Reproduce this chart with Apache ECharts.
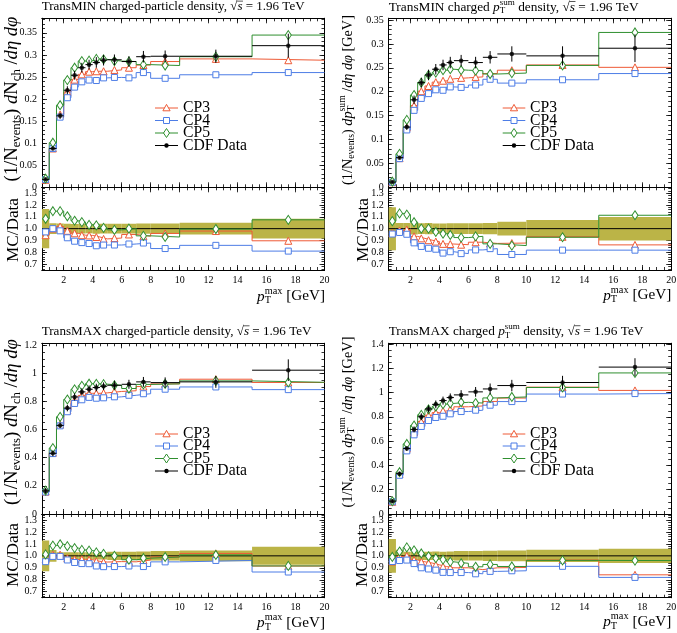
<!DOCTYPE html>
<html><head><meta charset="utf-8">
<script src="https://cdn.jsdelivr.net/npm/echarts@6/dist/echarts.min.js"></script>
<style>html,body{margin:0;padding:0;background:#fff}#c{width:677px;height:633px}</style>
</head><body><div id="c"></div>
<script>
// ---------------- data ----------------
const edges = [0.5,1,1.5,2,2.5,3,3.5,4,4.5,5,6,7,8,10,15,20];
const xTickLabels = [2,4,6,8,10,12,14,16,18,20];
const ratioTicks = [0.7,0.8,0.9,1.0,1.1,1.2,1.3];
const seriesNames = ['CP3','CP4','CP5','CDF Data'];

// TransMIN charged-particle density
const minNchYTicks = [0,0.05,0.1,0.15,0.2,0.25,0.3,0.35];
const minNchData = [0.018,0.088,0.162,0.220,0.254,0.271,0.278,0.283,0.288,0.289,0.285,0.296,0.297,0.297,0.321];
const minNchErr  = [0.003,0.004,0.007,0.009,0.010,0.011,0.011,0.012,0.012,0.012,0.012,0.013,0.013,0.015,0.027];
const minNchCP3  = [0.017,0.088,0.165,0.216,0.244,0.256,0.262,0.263,0.263,0.266,0.271,0.277,0.285,0.291,0.288];
const minNchCP4  = [0.0175,0.088,0.159,0.203,0.227,0.239,0.243,0.242,0.248,0.249,0.248,0.260,0.247,0.255,0.260];
const minNchCP5  = [0.0195,0.101,0.186,0.243,0.271,0.286,0.287,0.291,0.290,0.286,0.285,0.278,0.276,0.296,0.345];

// TransMIN charged pTsum density
const minPtYTicks = [0,0.05,0.1,0.15,0.2,0.25,0.3,0.35];
const minPtData = [0.011,0.062,0.126,0.183,0.219,0.235,0.247,0.256,0.261,0.265,0.261,0.272,0.279,0.275,0.291];
const minPtErr  = [0.002,0.003,0.006,0.009,0.010,0.011,0.011,0.011,0.012,0.012,0.012,0.013,0.016,0.020,0.029];
const minPtCP3  = [0.0106,0.061,0.125,0.171,0.201,0.212,0.220,0.223,0.227,0.229,0.231,0.238,0.245,0.256,0.251];
const minPtCP4  = [0.0105,0.060,0.120,0.161,0.186,0.196,0.204,0.203,0.210,0.209,0.214,0.226,0.218,0.225,0.238];
const minPtCP5  = [0.0117,0.070,0.141,0.193,0.219,0.235,0.240,0.245,0.247,0.245,0.244,0.237,0.239,0.255,0.324];

// TransMAX charged-particle density
const maxNchYTicks = [0,0.2,0.4,0.6,0.8,1,1.2];
const maxNchData = [0.164,0.431,0.629,0.752,0.831,0.867,0.886,0.898,0.907,0.914,0.921,0.938,0.933,0.938,1.021];
const maxNchErr  = [0.021,0.021,0.019,0.023,0.025,0.026,0.027,0.027,0.027,0.032,0.032,0.035,0.037,0.042,0.077];
const maxNchCP3  = [0.159,0.435,0.635,0.737,0.806,0.842,0.857,0.857,0.860,0.870,0.875,0.905,0.924,0.957,0.934];
const maxNchCP4  = [0.156,0.429,0.626,0.726,0.785,0.811,0.828,0.822,0.825,0.832,0.843,0.854,0.886,0.902,0.883];
const maxNchCP5  = [0.166,0.468,0.690,0.813,0.885,0.910,0.925,0.924,0.922,0.914,0.891,0.920,0.924,0.945,0.935];

// TransMAX charged pTsum density
const maxPtYTicks = [0,0.2,0.4,0.6,0.8,1,1.2,1.4];
const maxPtData = [0.106,0.332,0.539,0.697,0.801,0.865,0.903,0.934,0.959,0.981,1.006,1.030,1.058,1.083,1.210];
const maxPtErr  = [0.015,0.017,0.019,0.024,0.028,0.030,0.032,0.033,0.034,0.039,0.040,0.045,0.047,0.055,0.073];
const maxPtCP3  = [0.101,0.330,0.539,0.673,0.761,0.813,0.835,0.850,0.863,0.883,0.890,0.927,0.955,1.045,1.018];
const maxPtCP4  = [0.101,0.319,0.520,0.652,0.721,0.770,0.795,0.805,0.825,0.844,0.855,0.896,0.926,0.988,0.992];
const maxPtCP5  = [0.105,0.344,0.577,0.729,0.817,0.862,0.885,0.905,0.911,0.920,0.914,0.956,0.964,1.042,1.162];

// ---------------- style / layout ----------------
const FF = '"Liberation Serif", "DejaVu Serif", serif';
const COL = {cp3:'#ee5a36', cp4:'#4d7de6', cp5:'#2f8f2f', data:'#000', band:'#bbb447'};
const PW = 282.5;

const mctx = document.createElement('canvas').getContext('2d');
function tw(t, size, italic){ mctx.font = (italic?'italic ':'') + size + 'px ' + FF; return mctx.measureText(t).width; }
function layout(pieces, size){
  let x = 0, pend = 0; const items = [];
  for (const p of pieces){
    const s = (p.sub||p.sup) ? size*0.68 : size;
    const dy = p.sub ? size*0.26 : p.sup ? -size*0.36 : 0;
    const w = tw(p.t, s, p.i);
    items.push({t:p.t, x, y:dy, s, i:p.i, w, over:p.over});
    if (p.stack){ pend = w; } else { x += Math.max(w, pend); pend = 0; }
  }
  return {items, width:x};
}
function makeLabel(pieces, target, ax, ay, anchor, rot){
  const L0 = layout(pieces, 20);
  const size = 20*target/L0.width;
  const L = layout(pieces, size);
  const off = anchor==='left' ? 0 : anchor==='right' ? -L.width : -L.width/2;
  const children = [];
  L.items.forEach(it=>{
    children.push({type:'text', x:it.x+off, y:it.y, style:{text:it.t, fontSize:it.s, fontFamily:FF, fontStyle:it.i?'italic':'normal', fill:'#000', align:'left', verticalAlign:'middle'}});
    if (it.over) children.push({type:'line', shape:{x1:it.x+off-0.3, y1:-size*0.45, x2:it.x+off+it.w+0.5, y2:-size*0.45}, style:{stroke:'#000', lineWidth:Math.max(0.6,size*0.05)}});
  });
  return {type:'group', x:ax, y:ay, rotation:rot||0, children, silent:true};
}
function range(a,b,st){ const o=[]; for(let k=0;a+k*st<=b+1e-9;k++) o.push(+(a+k*st).toFixed(4)); return o; }

const centers = edges.slice(0,-1).map((e,i)=>(e+edges[i+1])/2);
const stepData = v => v.map((y,i)=>[edges[i],y]).concat([[edges[edges.length-1], v[v.length-1]]]);
const ratio = (a,b) => a.map((v,i)=>v/b[i]);

const sqrtS = [{t:'√'},{t:'s',i:1,over:1},{t:' = 1.96 TeV'}];
const ptSum = [{t:'p',i:1},{t:'T',sub:1,stack:1},{t:'sum',sup:1}];
const nchY = [{t:'(1/N'},{t:'events',sub:1},{t:') '},{t:'d',i:1},{t:'N'},{t:'ch',sub:1},{t:' /'},{t:'dη dφ',i:1}];
const ptY = [{t:'(1/N'},{t:'events',sub:1},{t:') '},{t:'d',i:1}].concat(ptSum,[{t:' /'},{t:'dη dφ',i:1},{t:' [GeV]'}]);
const xLab = [{t:'p',i:1},{t:'T',sub:1,stack:1},{t:'max',sup:1},{t:' [GeV]'}];

const panels = [
 {d:minNchData,e:minNchErr,c3:minNchCP3,c4:minNchCP4,c5:minNchCP5,yt:minNchYTicks,ymin:0.01,ymax:0.383,
  left:42,top:18.3,h:169,rTop:187.3,rH:82.7,
  title:[{t:'TransMIN charged-particle density, '}].concat(sqrtS), tPos:[41.7,7,263],
  yl:nchY, ylPos:[12,99,165], mcPos:[13,230,64], xlPos:[325,296.5,68],
  leg:{x0:155,x1:178,tx:183,rows:[108,120.5,133,145.5]}},
 {d:minPtData,e:minPtErr,c3:minPtCP3,c4:minPtCP4,c5:minPtCP5,yt:minPtYTicks,ymin:0.01,ymax:0.3536,
  left:388.7,top:18.3,h:169,rTop:187.3,rH:82.7,
  title:[{t:'TransMIN charged '}].concat(ptSum,[{t:' density, '}],sqrtS), tPos:[388.7,7.5,250],
  yl:ptY, ylPos:[348,100,170], mcPos:[363,230,64], xlPos:[671.2,295.5,68],
  leg:{x0:502.7,x1:525.3,tx:530,rows:[108,120.5,133,145.5]}},
 {d:maxNchData,e:maxNchErr,c3:maxNchCP3,c4:maxNchCP4,c5:maxNchCP5,yt:maxNchYTicks,ymin:0.05,ymax:1.212,
  left:42,top:343.3,h:170.7,rTop:514,rH:83.7,
  title:[{t:'TransMAX charged-particle density, '}].concat(sqrtS), tPos:[41.7,331.7,270],
  yl:nchY, ylPos:[12,422,166], mcPos:[13,555,64], xlPos:[325,623,68],
  leg:{x0:155,x1:178,tx:183,rows:[434,446,458.5,471]}},
 {d:maxPtData,e:maxPtErr,c3:maxPtCP3,c4:maxPtCP4,c5:maxPtCP5,yt:maxPtYTicks,ymin:0.05,ymax:1.406,
  left:388.7,top:343.3,h:170.7,rTop:514,rH:83.7,
  title:[{t:'TransMAX charged '}].concat(ptSum,[{t:' density, '}],sqrtS), tPos:[388.7,331.7,255],
  yl:ptY, ylPos:[348,422,171], mcPos:[362,555,64], xlPos:[671.2,622,68],
  leg:{x0:502.7,x1:525.3,tx:530,rows:[434,446,458.5,471]}}
];

const grids=[], xAxes=[], yAxes=[], series=[], graphics=[];
const xMajor = xTickLabels, xMinor = range(0.5,20,0.5);
function addGrid(l,t,w,h){ grids.push({left:l,top:t,width:w,height:h,containLabel:false,outerBoundsMode:'none'}); return grids.length-1; }
function mkAxis(arr, gi, pos, min, max, ticks, len, labVals, fmt, margin){
  arr.push({type:'value', gridIndex:gi, position:pos, min, max, offset:0,
    axisLine:{show:true,onZero:false,lineStyle:{color:'#000',width:1}},
    axisTick:{show:true,inside:true,length:len,customValues:ticks,lineStyle:{color:'#000',width:0.8}},
    axisLabel:labVals?{show:true,customValues:labVals,formatter:fmt,fontSize:10,fontFamily:FF,color:'#000',margin:margin}:{show:false},
    splitLine:{show:false}, minorTick:{show:false}, minorSplitLine:{show:false}, axisPointer:{show:false}});
  return arr.length-1;
}
const fmtMain = v => String(+(+v).toFixed(3));
const fmtRatio = v => (+v).toFixed(1);
const fmtX = v => String(+(+v).toFixed(1));

panels.forEach(p=>{
  const gM = addGrid(p.left,p.top,PW,p.h), gR = addGrid(p.left,p.rTop,PW,p.rH);
  // main axes
  const xM = mkAxis(xAxes,gM,'bottom',0.5,20,xMajor,5,null);
  mkAxis(xAxes,gM,'bottom',0.5,20,xMinor,3,null);
  mkAxis(xAxes,gM,'top',0.5,20,xMajor,5,null);
  mkAxis(xAxes,gM,'top',0.5,20,xMinor,3,null);
  const ymn = range(0,p.ymax,p.ymin);
  const yM = mkAxis(yAxes,gM,'left',0,p.ymax,p.yt,5,p.yt,fmtMain,5);
  mkAxis(yAxes,gM,'left',0,p.ymax,ymn,3,null);
  mkAxis(yAxes,gM,'right',0,p.ymax,p.yt,5,null);
  mkAxis(yAxes,gM,'right',0,p.ymax,ymn,3,null);
  // ratio axes
  const xR = mkAxis(xAxes,gR,'bottom',0.5,20,xMajor,5,xTickLabels,fmtX,5);
  mkAxis(xAxes,gR,'bottom',0.5,20,xMinor,3,null);
  mkAxis(xAxes,gR,'top',0.5,20,xMajor,5,null);
  mkAxis(xAxes,gR,'top',0.5,20,xMinor,3,null);
  const rmn = range(0.66,1.34,0.02);
  const yR = mkAxis(yAxes,gR,'left',0.65,1.35,ratioTicks,5,ratioTicks,fmtRatio,5);
  mkAxis(yAxes,gR,'left',0.65,1.35,rmn,3,null);
  mkAxis(yAxes,gR,'right',0.65,1.35,ratioTicks,5,null);
  mkAxis(yAxes,gR,'right',0.65,1.35,rmn,3,null);

  const mcs = [[p.c3,COL.cp3,'triangle',7],[p.c4,COL.cp4,'rect',6],[p.c5,COL.cp5,'diamond',[6,9]]];
  const base = {animation:false, silent:true};
  // ratio band
  series.push(Object.assign({type:'custom', xAxisIndex:xR, yAxisIndex:yR, z:1, clip:true,
    data: p.d.map((v,i)=>[edges[i],edges[i+1],p.e[i]/v]),
    renderItem:(prm,api)=>{ const a=api.coord([api.value(0),1+api.value(2)]), b=api.coord([api.value(1),1-api.value(2)]);
      return {type:'rect', shape:{x:a[0],y:a[1],width:b[0]-a[0],height:b[1]-a[1]}, style:{fill:COL.band}}; }}, base));
  series.push(Object.assign({type:'line', xAxisIndex:xR, yAxisIndex:yR, step:'end', symbol:'none', z:2,
    data:stepData(ratio(p.d,p.d)), lineStyle:{color:'#000',width:1}}, base));
  mcs.forEach(([v,c,sym,sz])=>{
    series.push(Object.assign({type:'line', xAxisIndex:xM, yAxisIndex:yM, step:'end', symbol:'none', z:3,
      data:stepData(v), lineStyle:{color:c,width:1}}, base));
    series.push(Object.assign({type:'line', xAxisIndex:xR, yAxisIndex:yR, step:'end', symbol:'none', z:3,
      data:stepData(ratio(v,p.d)), lineStyle:{color:c,width:1}}, base));
  });
  mcs.forEach(([v,c,sym,sz])=>{
    series.push(Object.assign({type:'scatter', xAxisIndex:xM, yAxisIndex:yM, z:4, symbol:sym, symbolSize:sz,
      data:centers.map((x,i)=>[x,v[i]]), itemStyle:{color:'#fff',borderColor:c,borderWidth:1,opacity:1}}, base));
    const r = ratio(v,p.d);
    series.push(Object.assign({type:'scatter', xAxisIndex:xR, yAxisIndex:yR, z:4, symbol:sym, symbolSize:sz,
      data:centers.map((x,i)=>[x,r[i]]), itemStyle:{color:'#fff',borderColor:c,borderWidth:1,opacity:1}}, base));
  });
  // data error bars + points
  series.push(Object.assign({type:'custom', xAxisIndex:xM, yAxisIndex:yM, z:5,
    data: p.d.map((v,i)=>[edges[i],edges[i+1],centers[i],v,p.e[i]]),
    renderItem:(prm,api)=>{ const lo=api.value(0),hi=api.value(1),c=api.value(2),v=api.value(3),e=api.value(4);
      const L=api.coord([lo,v]),R=api.coord([hi,v]),T=api.coord([c,v+e]),B=api.coord([c,v-e]);
      return {type:'group',children:[
        {type:'line',shape:{x1:L[0],y1:L[1],x2:R[0],y2:R[1]},style:{stroke:'#000',lineWidth:1}},
        {type:'line',shape:{x1:T[0],y1:T[1],x2:B[0],y2:B[1]},style:{stroke:'#000',lineWidth:1}}]}; }}, base));
  series.push(Object.assign({type:'scatter', xAxisIndex:xM, yAxisIndex:yM, z:6, symbol:'circle', symbolSize:4.5,
    data:centers.map((x,i)=>[x,p.d[i]]), itemStyle:{color:'#000'}}, base));

  // texts
  graphics.push(makeLabel(p.title,p.tPos[2],p.tPos[0],p.tPos[1],'left',0));
  graphics.push(makeLabel(p.yl,p.ylPos[2],p.ylPos[0],p.ylPos[1],'center',Math.PI/2));
  graphics.push(makeLabel([{t:'MC/Data'}],p.mcPos[2],p.mcPos[0],p.mcPos[1],'center',Math.PI/2));
  graphics.push(makeLabel(xLab,p.xlPos[2],p.xlPos[0],p.xlPos[1],'right',0));
  // legend
  const lg = p.leg, legSize = 15.5*64/tw('CDF Data',15.5,false);
  const mx = (lg.x0+lg.x1)/2;
  const legCols = [COL.cp3,COL.cp4,COL.cp5,'#000'];
  seriesNames.forEach((nm,k)=>{
    const y = lg.rows[k], c = legCols[k];
    graphics.push({type:'line',silent:true,shape:{x1:lg.x0,y1:y,x2:lg.x1,y2:y},style:{stroke:c,lineWidth:1}});
    let sym;
    if (k===0) sym={type:'polygon',shape:{points:[[mx,y-3.6],[mx+3.6,y+2.8],[mx-3.6,y+2.8]]},style:{fill:'#fff',stroke:c,lineWidth:1}};
    else if (k===1) sym={type:'rect',shape:{x:mx-3,y:y-3,width:6,height:6},style:{fill:'#fff',stroke:c,lineWidth:1}};
    else if (k===2) sym={type:'polygon',shape:{points:[[mx,y-4.5],[mx+3,y],[mx,y+4.5],[mx-3,y]]},style:{fill:'#fff',stroke:c,lineWidth:1}};
    else sym={type:'circle',shape:{cx:mx,cy:y,r:2.2},style:{fill:'#000'}};
    sym.silent=true; graphics.push(sym);
    graphics.push({type:'text',silent:true,x:lg.tx,y:y,style:{text:nm,fontSize:legSize,fontFamily:FF,fill:'#000',align:'left',verticalAlign:'middle'}});
  });
});

const chart = echarts.init(document.getElementById('c'), null, {renderer:'canvas'});
chart.setOption({animation:false, backgroundColor:'#fff', grid:grids, xAxis:xAxes, yAxis:yAxes, series, graphic:{elements:graphics}});
</script></body></html>
